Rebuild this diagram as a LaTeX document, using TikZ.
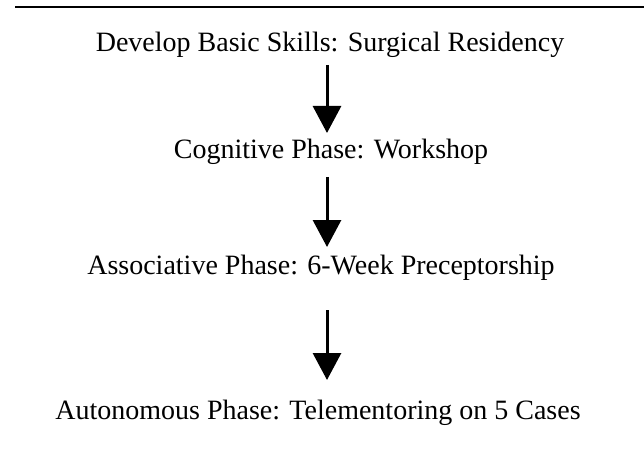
\documentclass[tikz,border=0pt]{standalone}
\usepackage{fontspec}
\setmainfont{Liberation Serif}
\usetikzlibrary{arrows.meta}
\tikzset{
  lbl/.style={anchor=base, inner sep=0pt, font=\fontsize{28}{32}\selectfont},
  flow/.style={line width=3pt, -{Triangle[width=28pt,length=27pt]}},
  rule/.style={line width=2pt}
}
\begin{document}
\begin{tikzpicture}[x=1pt,y=-1pt]
\useasboundingbox (0,0) rectangle (644,454);
\draw[rule] (15,7) coordinate (r1) -- (644,7) coordinate (r2);
\node[lbl] (t1) at (330,52) {Develop Basic Skills: Surgical Residency};
\node[lbl] (t2) at (331,159) {Cognitive Phase: Workshop};
\node[lbl] (t3) at (321,274) {Associative Phase: 6-Week Preceptorship};
\node[lbl] (t4) at (318,419) {Autonomous Phase: Telementoring on 5 Cases};
\coordinate (a1s) at (327,65); \coordinate (a1e) at (327,133);
\coordinate (a2s) at (327,177); \coordinate (a2e) at (327,247);
\coordinate (a3s) at (327,310); \coordinate (a3e) at (327,380);
\draw[flow] (a1s) -- (a1e);
\draw[flow] (a2s) -- (a2e);
\draw[flow] (a3s) -- (a3e);
\end{tikzpicture}
\end{document}
